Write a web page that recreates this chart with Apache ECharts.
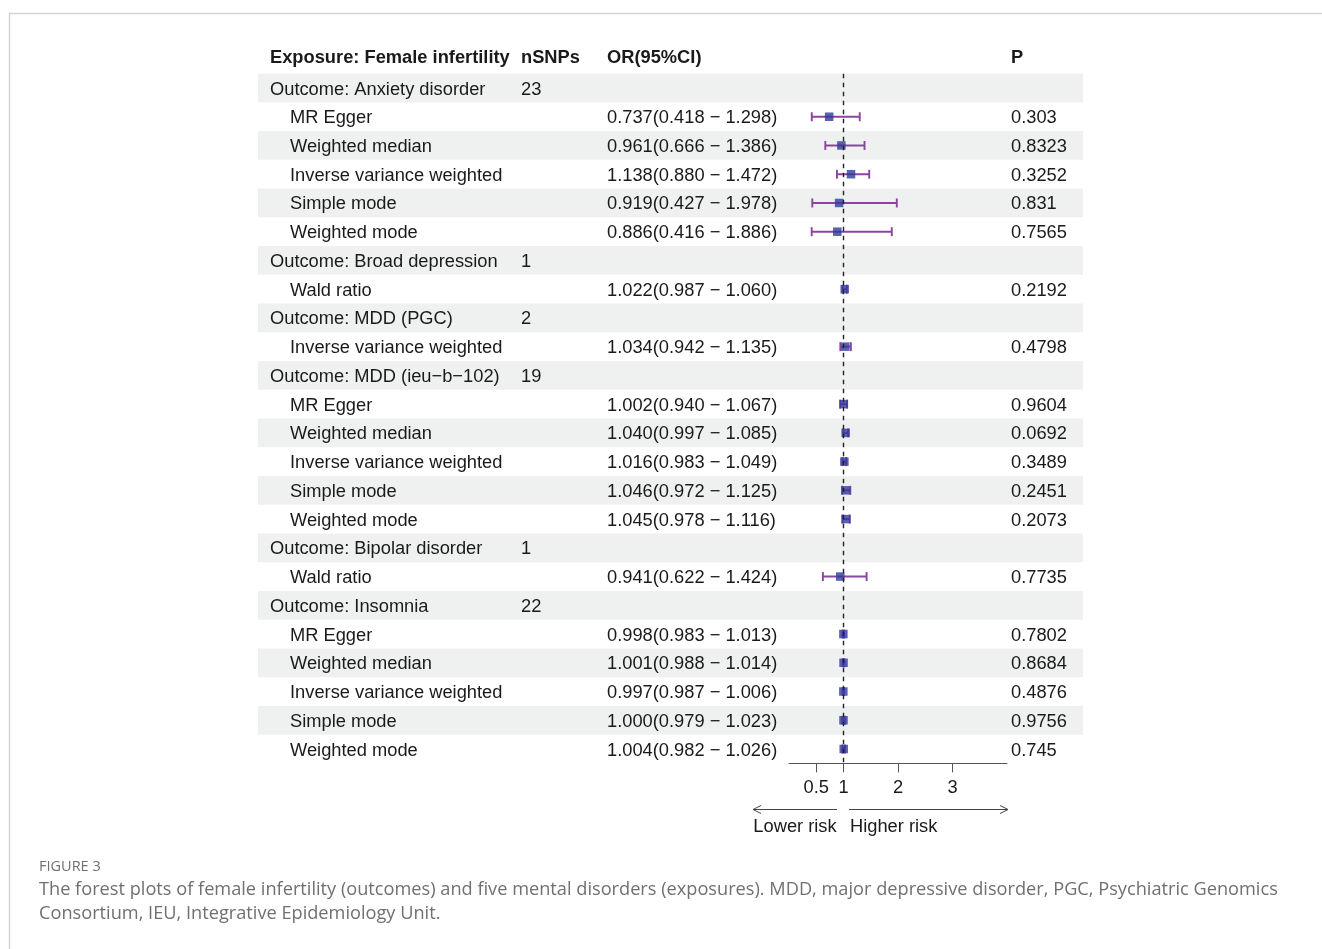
<!DOCTYPE html>
<html>
<head>
<meta charset="utf-8">
<title>Forest plot: female infertility and mental disorders</title>
<script src="https://cdn.jsdelivr.net/npm/echarts@6/dist/echarts.min.js"></script>
<style>
  html, body { margin: 0; padding: 0; background: #fff; }
  #chart { width: 1322px; height: 949px; }
</style>
</head>
<body>
<div id="chart"></div>
<script>
// ---- table content, one entry per row ----
const headers = ['Exposure: Female infertility', 'nSNPs', 'OR(95%CI)', 'P'];

const rowLabels = [
  'Outcome: Anxiety disorder', 'MR Egger', 'Weighted median', 'Inverse variance weighted', 'Simple mode', 'Weighted mode',
  'Outcome: Broad depression', 'Wald ratio',
  'Outcome: MDD (PGC)', 'Inverse variance weighted',
  'Outcome: MDD (ieu\u2212b\u2212102)', 'MR Egger', 'Weighted median', 'Inverse variance weighted', 'Simple mode', 'Weighted mode',
  'Outcome: Bipolar disorder', 'Wald ratio',
  'Outcome: Insomnia', 'MR Egger', 'Weighted median', 'Inverse variance weighted', 'Simple mode', 'Weighted mode'
];

const nSNPs = ['23', '', '', '', '', '', '1', '', '2', '', '19', '', '', '', '', '', '1', '', '22', '', '', '', '', ''];

const orValues = [null, 0.737, 0.961, 1.138, 0.919, 0.886, null, 1.022, null, 1.034, null, 1.002, 1.040, 1.016, 1.046, 1.045, null, 0.941, null, 0.998, 1.001, 0.997, 1.000, 1.004];
const ciLower  = [null, 0.418, 0.666, 0.880, 0.427, 0.416, null, 0.987, null, 0.942, null, 0.940, 0.997, 0.983, 0.972, 0.978, null, 0.622, null, 0.983, 0.988, 0.987, 0.979, 0.982];
const ciUpper  = [null, 1.298, 1.386, 1.472, 1.978, 1.886, null, 1.060, null, 1.135, null, 1.067, 1.085, 1.049, 1.125, 1.116, null, 1.424, null, 1.013, 1.014, 1.006, 1.023, 1.026];

const pValues = ['', '0.303', '0.8323', '0.3252', '0.831', '0.7565', '', '0.2192', '', '0.4798', '', '0.9604', '0.0692', '0.3489', '0.2451', '0.2073', '', '0.7735', '', '0.7802', '0.8684', '0.4876', '0.9756', '0.745'];

const axisTicks = [0.5, 1, 2, 3];

const caption = {
  title: 'FIGURE 3',
  lines: [
    'The forest plots of female infertility (outcomes) and five mental disorders (exposures). MDD, major depressive disorder, PGC, Psychiatric Genomics',
    'Consortium, IEU, Integrative Epidemiology Unit.'
  ]
};

// ---- layout ----
const FONT = '"Liberation Sans", Arial, sans-serif';
const CAPTION_FONT = '"Open Sans", sans-serif';
const FONT_SIZE = 18.3;
const TEXT_COLOR = '#1a1a1a';
const ROW_TOP = 73.63, ROW_HEIGHT_TOTAL = 689.74;
const TABLE_LEFT = 258, TABLE_WIDTH = 825;
const TEXT_NUDGE = 1.5; // optical centring of text within a row band
// column offsets inside the table (pixels from its left edge)
const COL = { outcome: 12, method: 32, nsnp: 263, or: 349, p: 753 };

function fmt(v) { return v.toFixed(3); }
function orText(i) {
  if (orValues[i] == null) return '';
  return fmt(orValues[i]) + '(' + fmt(ciLower[i]) + ' \u2212 ' + fmt(ciUpper[i]) + ')';
}

const chart = echarts.init(document.getElementById('chart'), null, { renderer: 'canvas' });

const yAxisBase = { type: 'value', min: -0.5, max: rowLabels.length - 0.5, inverse: true, show: false };

const textStyleBase = { fontFamily: FONT, fontSize: FONT_SIZE, fill: TEXT_COLOR, verticalAlign: 'middle', align: 'left' };

const tableData = rowLabels.map((_, i) => [0, i]);
const estData = [], ciData = [];
orValues.forEach((v, i) => {
  if (v != null) {
    estData.push([v, i]);
    ciData.push([ciLower[i], ciUpper[i], i]);
  }
});

const option = {
  animation: false,
  backgroundColor: '#ffffff',
  grid: [
    { left: TABLE_LEFT, width: TABLE_WIDTH, top: ROW_TOP, height: ROW_HEIGHT_TOTAL },
    { left: 789, width: 218, top: ROW_TOP, height: ROW_HEIGHT_TOTAL }
  ],
  xAxis: [
    { gridIndex: 0, type: 'value', min: 0, max: TABLE_WIDTH, show: false },
    {
      gridIndex: 1, type: 'value', min: 0, max: 4, position: 'bottom',
      axisLine: { show: true, onZero: false, lineStyle: { color: '#555', width: 1 } },
      axisTick: { show: true, inside: false, customValues: axisTicks, length: 9, lineStyle: { color: '#555', width: 1 } },
      axisLabel: {
        show: true, customValues: axisTicks, margin: 16,
        fontFamily: FONT, fontSize: FONT_SIZE, color: TEXT_COLOR,
        formatter: v => String(v)
      },
      splitLine: { show: false }
    }
  ],
  yAxis: [
    Object.assign({ gridIndex: 0 }, yAxisBase),
    Object.assign({ gridIndex: 1 }, yAxisBase)
  ],
  series: [
    // zebra bands and row text
    {
      type: 'custom', xAxisIndex: 0, yAxisIndex: 0, z: 1,
      data: tableData,
      encode: { x: 0, y: 1 },
      renderItem: function (params, api) {
        const i = api.value(1);
        const left = api.coord([0, i - 0.5]);
        const right = api.coord([TABLE_WIDTH, i + 0.5]);
        const cy = api.coord([0, i])[1] + TEXT_NUDGE;
        const x = v => api.coord([v, i])[0];
        const isOutcome = orValues[i] == null;
        const children = [];
        if (i % 2 === 0) {
          children.push({
            type: 'rect',
            shape: { x: left[0], y: left[1], width: right[0] - left[0], height: right[1] - left[1] },
            style: { fill: '#eff0f0' }
          });
        }
        const put = (t, colX) => {
          if (t) children.push({ type: 'text', x: x(colX), y: cy, style: Object.assign({}, textStyleBase, { text: t }) });
        };
        put(rowLabels[i], isOutcome ? COL.outcome : COL.method);
        put(nSNPs[i], COL.nsnp);
        put(orText(i), COL.or);
        put(pValues[i], COL.p);
        return { type: 'group', children: children };
      }
    },
    // column headers
    {
      type: 'custom', xAxisIndex: 0, yAxisIndex: 0, z: 1,
      data: [[0, -1.1]],
      encode: { x: 0, y: 1 },
      renderItem: function (params, api) {
        const yv = api.value(1);
        const cy = api.coord([0, yv])[1] + TEXT_NUDGE;
        const cols = [COL.outcome, COL.nsnp, COL.or, COL.p];
        return {
          type: 'group',
          children: headers.map((h, k) => ({
            type: 'text', x: api.coord([cols[k], yv])[0], y: cy,
            style: Object.assign({}, textStyleBase, { text: h, fontWeight: 'bold' })
          }))
        };
      }
    },
    // confidence intervals with end caps
    {
      type: 'custom', xAxisIndex: 1, yAxisIndex: 1, z: 3,
      data: ciData,
      encode: { x: [0, 1], y: 2 },
      renderItem: function (params, api) {
        const row = api.value(2);
        const a = api.coord([api.value(0), row]);
        const b = api.coord([api.value(1), row]);
        const cap = 4.5;
        const st = { stroke: '#8b44a0', lineWidth: 1.9 };
        return {
          type: 'group',
          children: [
            { type: 'line', shape: { x1: a[0], y1: a[1], x2: b[0], y2: b[1] }, style: st },
            { type: 'line', shape: { x1: a[0], y1: a[1] - cap, x2: a[0], y2: a[1] + cap }, style: st },
            { type: 'line', shape: { x1: b[0], y1: b[1] - cap, x2: b[0], y2: b[1] + cap }, style: st }
          ]
        };
      }
    },
    // point estimates and the line of no effect
    {
      type: 'scatter', xAxisIndex: 1, yAxisIndex: 1, z: 4,
      data: estData,
      symbol: 'rect', symbolSize: 8.5,
      itemStyle: { color: '#2f3a9e' },
      markLine: {
        silent: true, symbol: 'none', label: { show: false },
        lineStyle: { color: '#222', width: 1.4, type: [4.5, 4.5] },
        data: [{ xAxis: 1 }]
      }
    }
  ],
  graphic: [
    // figure frame
    { type: 'line', shape: { x1: 9, y1: 13.5, x2: 1322, y2: 13.5 }, style: { stroke: '#d3d3d3', lineWidth: 1.5 } },
    { type: 'line', shape: { x1: 9.5, y1: 13, x2: 9.5, y2: 949 }, style: { stroke: '#d3d3d3', lineWidth: 1.5 } },
    // direction arrows
    { type: 'line', shape: { x1: 837, y1: 809.5, x2: 753, y2: 809.5 }, style: { stroke: '#444', lineWidth: 1 } },
    { type: 'polyline', shape: { points: [[761, 805.5], [753, 809.5], [761, 813.5]] }, style: { stroke: '#444', lineWidth: 1, fill: null } },
    { type: 'line', shape: { x1: 849, y1: 809.5, x2: 1008, y2: 809.5 }, style: { stroke: '#444', lineWidth: 1 } },
    { type: 'polyline', shape: { points: [[1000, 805.5], [1008, 809.5], [1000, 813.5]] }, style: { stroke: '#444', lineWidth: 1, fill: null } },
    { type: 'text', x: 795, y: 827, style: { text: 'Lower risk', fontFamily: FONT, fontSize: FONT_SIZE, fill: TEXT_COLOR, align: 'center', verticalAlign: 'middle' } },
    { type: 'text', x: 850, y: 827, style: { text: 'Higher risk', fontFamily: FONT, fontSize: FONT_SIZE, fill: TEXT_COLOR, align: 'left', verticalAlign: 'middle' } },
    // caption
    { type: 'text', x: 39, y: 867, style: { text: caption.title, fontFamily: CAPTION_FONT, fontSize: 14.5, fill: '#707070', verticalAlign: 'middle' } },
    { type: 'text', x: 39, y: 890, style: { text: caption.lines[0], fontFamily: CAPTION_FONT, fontSize: 18.2, fill: '#707070', verticalAlign: 'middle' } },
    { type: 'text', x: 39, y: 914, style: { text: caption.lines[1], fontFamily: CAPTION_FONT, fontSize: 18.2, fill: '#707070', verticalAlign: 'middle' } }
  ]
};

chart.setOption(option);
</script>
</body>
</html>
